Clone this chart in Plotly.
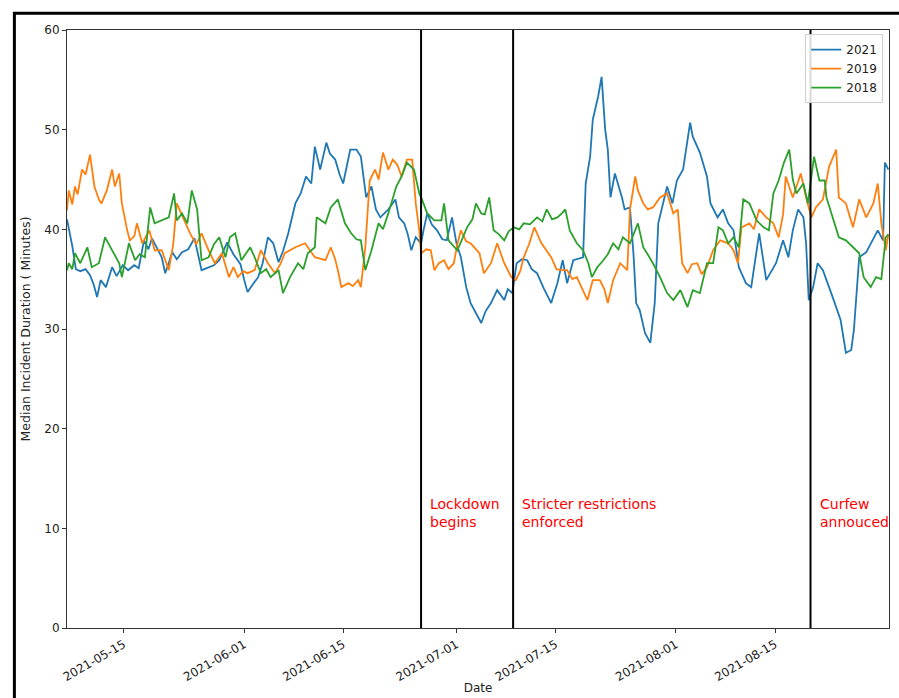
import pandas as pd
import plotly.graph_objects as go

YEAR = "2021-"

# Rolling median incident duration (minutes); times as "MM-DD HH"
t_2021 = ["05-07 00", "05-07 18", "05-08 06", "05-08 21", "05-09 15", "05-10 06", "05-10 18", "05-11 06",
          "05-11 18", "05-12 12", "05-13 09", "05-14 00", "05-14 21", "05-15 15", "05-16 12", "05-17 03",
          "05-17 21", "05-18 12", "05-19 00", "05-19 18", "05-20 09", "05-20 21", "05-21 21", "05-22 12",
          "05-23 06", "05-24 03", "05-25 00", "05-26 00", "05-27 00", "05-27 18", "05-28 12", "05-29 15",
          "05-30 12", "05-31 12", "06-01 00", "06-01 12", "06-02 06", "06-03 00", "06-03 15", "06-04 09",
          "06-05 03", "06-05 21", "06-06 12", "06-07 06", "06-08 06", "06-09 00", "06-09 18", "06-10 12",
          "06-11 00", "06-11 18", "06-12 15", "06-13 03", "06-13 21", "06-14 12", "06-15 00", "06-15 12",
          "06-16 00", "06-16 21", "06-17 12", "06-18 06", "06-19 00", "06-19 15", "06-20 06", "06-21 09",
          "06-22 09", "06-22 21", "06-23 15", "06-24 03", "06-24 15", "06-25 06", "06-26 00", "06-26 09",
          "06-26 21", "06-27 12", "06-28 06", "06-29 00", "06-29 15", "06-30 09", "07-01 00", "07-01 15",
          "07-02 09", "07-03 00", "07-03 18", "07-04 12", "07-05 03", "07-05 21", "07-06 18", "07-07 18",
          "07-08 06", "07-08 21", "07-09 12", "07-10 06", "07-11 00", "07-11 15", "07-12 09", "07-13 09",
          "07-14 09", "07-15 06", "07-16 00", "07-16 15", "07-17 12", "07-18 21", "07-19 06", "07-19 21",
          "07-20 06", "07-21 00", "07-21 12", "07-22 00", "07-22 09", "07-22 18", "07-23 09", "07-24 09",
          "07-24 18", "07-25 12", "07-26 00", "07-26 09", "07-26 21", "07-27 15", "07-28 09", "07-29 00",
          "07-29 12", "07-30 00", "07-30 18", "07-31 12", "08-01 03", "08-02 00", "08-03 00", "08-03 09",
          "08-04 09", "08-05 09", "08-05 21", "08-06 21", "08-07 15", "08-08 09", "08-09 03", "08-09 21",
          "08-10 21", "08-11 15", "08-12 18", "08-13 18", "08-15 03", "08-16 03", "08-16 21", "08-17 12",
          "08-18 06", "08-19 00", "08-19 09", "08-19 18", "08-20 09", "08-21 00", "08-21 18", "08-23 03",
          "08-24 06", "08-25 00", "08-25 18", "08-26 03", "08-26 21", "08-27 21", "08-29 12", "08-30 06",
          "08-30 12", "08-31 00"]
v_2021 = [41.0, 38.3, 36.0, 35.8, 36.0, 35.4, 34.5, 33.2,
          34.9, 34.2, 36.2, 35.3, 36.4, 35.9, 36.4, 36.1,
          38.9, 38.0, 39.1, 38.0, 37.2, 35.6, 37.7, 37.0,
          37.7, 38.0, 39.1, 35.9, 36.2, 36.4, 36.9, 38.7,
          37.5, 36.5, 35.0, 33.7, 34.5, 35.2, 36.6, 39.2,
          38.6, 36.7, 37.8, 39.6, 42.6, 43.6, 45.3, 44.6,
          48.3, 46.0, 48.7, 47.6, 47.0, 45.5, 44.6, 46.5,
          48.0, 48.0, 47.3, 43.2, 44.3, 42.0, 41.2, 42.0,
          43.0, 41.2, 40.6, 39.5, 37.9, 39.2, 38.6, 40.0,
          41.6, 40.5, 39.9, 39.0, 38.9, 41.2, 38.6, 37.2,
          34.2, 32.6, 31.6, 30.6, 31.8, 32.6, 33.9, 32.9,
          34.0, 33.6, 36.6, 37.0, 36.9, 36.0, 35.6, 34.0,
          32.6, 34.6, 36.9, 34.6, 36.9, 37.2, 44.6, 47.3,
          51.0, 53.3, 55.3, 50.0, 48.0, 43.2, 45.6, 43.2,
          42.0, 42.2, 37.5, 32.6, 31.9, 29.6, 28.6, 32.6,
          40.6, 42.0, 44.3, 42.6, 44.9, 46.0, 50.7, 49.3,
          47.7, 45.3, 42.6, 41.2, 42.0, 40.6, 39.9, 36.2,
          34.6, 34.2, 39.6, 34.9, 36.6, 38.9, 37.2, 39.9,
          42.0, 41.2, 38.6, 32.9, 34.2, 36.6, 35.9, 33.2,
          30.9, 27.6, 27.9, 29.9, 37.2, 37.7, 39.9, 38.9,
          46.7, 46.0]

t_2019 = ["05-07 00", "05-07 06", "05-07 18", "05-08 03", "05-08 12", "05-09 03", "05-09 15", "05-10 06",
          "05-10 21", "05-11 12", "05-11 21", "05-12 15", "05-13 09", "05-13 18", "05-14 09", "05-14 18",
          "05-15 12", "05-15 21", "05-16 12", "05-16 21", "05-17 15", "05-18 15", "05-19 09", "05-20 09",
          "05-21 09", "05-22 00", "05-22 12", "05-23 12", "05-24 09", "05-25 06", "05-26 00", "05-27 00",
          "05-27 21", "05-28 21", "05-29 21", "05-30 12", "05-31 03", "05-31 21", "06-01 12", "06-02 12",
          "06-03 09", "06-04 09", "06-05 09", "06-06 03", "06-06 18", "06-08 06", "06-09 15", "06-11 00",
          "06-12 12", "06-13 06", "06-13 21", "06-14 06", "06-14 18", "06-15 18", "06-16 09", "06-17 03",
          "06-17 12", "06-18 03", "06-18 18", "06-19 12", "06-20 00", "06-20 15", "06-21 09", "06-22 00",
          "06-22 15", "06-23 06", "06-24 00", "06-24 18", "06-25 06", "06-25 18", "06-26 00", "06-26 18",
          "06-27 09", "06-27 21", "06-28 12", "06-29 06", "06-29 21", "06-30 15", "07-01 03", "07-01 15",
          "07-02 09", "07-03 00", "07-04 06", "07-04 21", "07-05 21", "07-06 18", "07-07 18", "07-08 18",
          "07-09 09", "07-10 00", "07-10 12", "07-11 06", "07-12 00", "07-13 00", "07-13 15", "07-14 09",
          "07-15 03", "07-15 21", "07-16 15", "07-17 09", "07-18 00", "07-18 18", "07-19 12", "07-20 06",
          "07-21 06", "07-21 21", "07-22 09", "07-23 03", "07-24 03", "07-25 03", "07-25 12", "07-26 06",
          "07-26 15", "07-27 09", "07-28 00", "07-28 18", "07-29 18", "07-30 18", "07-31 15", "08-01 06",
          "08-01 21", "08-02 15", "08-03 06", "08-04 00", "08-04 15", "08-05 09", "08-06 06", "08-07 06",
          "08-08 09", "08-09 03", "08-09 18", "08-10 06", "08-11 09", "08-12 00", "08-12 18", "08-13 18",
          "08-14 18", "08-15 12", "08-16 03", "08-16 12", "08-17 12", "08-18 15", "08-19 09", "08-20 03",
          "08-20 18", "08-21 18", "08-22 15", "08-23 15", "08-24 00", "08-25 00", "08-26 00", "08-26 21",
          "08-27 21", "08-28 21", "08-29 12", "08-30 00", "08-30 15", "08-31 00"]
v_2019 = [41.9, 43.9, 42.5, 44.3, 43.5, 46.0, 45.5, 47.5,
          44.3, 43.0, 42.6, 43.9, 46.0, 44.3, 45.6, 42.6,
          39.9, 38.9, 39.3, 40.6, 38.6, 39.9, 37.9, 37.9,
          35.9, 38.5, 42.6, 40.9, 39.6, 38.5, 39.6, 37.9,
          36.6, 37.6, 35.2, 36.2, 35.2, 35.8, 35.6, 35.9,
          37.9, 36.6, 35.6, 36.5, 37.6, 38.2, 38.6, 37.2,
          36.9, 38.2, 37.0, 35.9, 34.2, 34.6, 34.3, 34.9,
          34.2, 38.2, 44.9, 46.0, 45.0, 47.7, 46.0, 47.0,
          46.5, 45.3, 47.0, 47.0, 42.6, 39.9, 37.6, 38.0,
          37.9, 35.9, 36.6, 36.9, 36.0, 36.6, 38.5, 39.9,
          38.8, 38.6, 37.6, 35.6, 36.6, 38.6, 36.6, 35.2,
          34.9, 35.8, 37.2, 38.5, 40.2, 38.6, 38.0, 37.2,
          36.0, 35.9, 35.9, 35.0, 35.2, 34.0, 32.9, 34.9,
          34.9, 34.0, 32.6, 34.9, 36.6, 35.9, 42.0, 45.3,
          43.9, 42.6, 42.0, 42.2, 43.2, 43.6, 41.6, 42.0,
          36.6, 35.6, 36.5, 36.6, 35.5, 36.2, 37.9, 38.9,
          38.6, 37.9, 36.6, 40.2, 40.6, 40.0, 42.0, 41.2,
          40.6, 39.2, 41.5, 45.3, 43.2, 45.6, 43.2, 41.2,
          42.2, 43.0, 46.3, 48.0, 43.2, 42.6, 40.2, 43.0,
          41.2, 42.6, 44.6, 40.6, 37.9, 39.5]

t_2018 = ["05-07 00", "05-07 06", "05-07 18", "05-08 03", "05-08 21", "05-09 21", "05-10 12", "05-11 12",
          "05-12 09", "05-13 03", "05-13 18", "05-14 09", "05-14 18", "05-15 18", "05-16 15", "05-17 06",
          "05-18 00", "05-18 18", "05-19 09", "05-20 09", "05-21 09", "05-22 03", "05-22 12", "05-23 06",
          "05-24 00", "05-24 15", "05-25 09", "05-26 00", "05-27 00", "05-27 18", "05-28 12", "05-29 09",
          "05-30 00", "05-30 18", "05-31 15", "06-01 21", "06-02 12", "06-03 09", "06-04 03", "06-04 18",
          "06-05 21", "06-06 12", "06-07 12", "06-08 15", "06-09 09", "06-10 00", "06-11 00", "06-11 06",
          "06-12 12", "06-13 06", "06-14 06", "06-15 06", "06-16 03", "06-16 21", "06-17 12", "06-18 03",
          "06-19 00", "06-20 00", "06-20 15", "06-21 09", "06-22 12", "06-23 06", "06-24 00", "06-25 00",
          "06-25 18", "06-26 03", "06-26 21", "06-27 21", "06-28 21", "06-29 06", "06-29 21", "07-01 03",
          "07-01 18", "07-02 12", "07-03 06", "07-03 18", "07-04 12", "07-05 00", "07-05 15", "07-06 06",
          "07-07 00", "07-07 18", "07-08 09", "07-09 03", "07-09 21", "07-10 12", "07-11 09", "07-12 09",
          "07-13 03", "07-13 18", "07-14 12", "07-15 06", "07-15 21", "07-16 09", "07-17 00", "07-18 00",
          "07-18 21", "07-19 15", "07-20 03", "07-20 21", "07-21 18", "07-22 09", "07-23 03", "07-23 21",
          "07-24 12", "07-25 12", "07-26 15", "07-27 09", "07-28 00", "07-28 18", "07-29 18", "07-30 18",
          "07-31 15", "08-01 15", "08-02 15", "08-03 09", "08-04 09", "08-05 09", "08-06 06", "08-07 00",
          "08-07 15", "08-08 09", "08-09 03", "08-09 21", "08-10 12", "08-11 09", "08-12 09", "08-13 09",
          "08-14 03", "08-14 18", "08-15 12", "08-16 06", "08-17 00", "08-17 12", "08-18 00", "08-19 00",
          "08-19 15", "08-20 12", "08-21 06", "08-22 00", "08-22 06", "08-23 06", "08-24 00", "08-25 00",
          "08-26 00", "08-26 21", "08-27 12", "08-28 12", "08-29 06", "08-30 00", "08-30 15", "08-31 00"]
v_2018 = [35.9, 36.6, 36.0, 37.6, 36.6, 38.2, 36.2, 36.6,
          39.2, 38.2, 37.5, 36.6, 35.2, 38.6, 36.9, 37.5,
          37.2, 42.2, 40.6, 40.9, 41.2, 43.6, 40.9, 41.6,
          40.6, 43.9, 42.0, 36.9, 37.2, 38.5, 39.2, 37.2,
          39.2, 39.6, 36.9, 38.2, 37.2, 35.6, 36.0, 35.2,
          35.9, 33.6, 35.2, 36.6, 36.0, 37.6, 38.2, 41.2,
          40.6, 42.2, 43.0, 40.6, 39.6, 39.0, 38.9, 35.9,
          37.9, 40.6, 40.0, 41.6, 44.3, 45.3, 46.7, 46.0,
          43.6, 43.0, 41.6, 40.9, 40.9, 42.6, 38.9, 37.9,
          39.0, 40.2, 41.0, 42.6, 41.6, 41.5, 43.2, 39.9,
          39.5, 38.9, 39.8, 40.2, 40.0, 40.6, 40.5, 41.2,
          40.8, 42.0, 41.0, 41.2, 41.6, 42.0, 39.9, 38.6,
          37.9, 36.6, 35.2, 36.2, 36.9, 37.5, 38.6, 38.0,
          39.2, 38.6, 40.6, 38.2, 37.5, 36.6, 35.2, 33.6,
          32.9, 33.9, 32.2, 33.9, 33.6, 36.6, 36.6, 40.2,
          39.9, 38.6, 39.2, 38.2, 43.0, 42.6, 40.9, 40.2,
          39.9, 43.6, 44.9, 46.7, 48.0, 45.0, 43.6, 44.6,
          42.6, 47.3, 44.9, 44.9, 43.2, 40.9, 39.2, 38.9,
          38.2, 37.6, 35.2, 34.2, 35.2, 35.0, 39.2, 39.5]

# Key policy dates and their labels
event_dates = ["2021-06-26", "2021-07-09", "2021-08-20"]
event_labels = ["Lockdown<br>begins", "Stricter restrictions<br>enforced", "Curfew<br>annouced"]
event_label_y = 10

tick_dates = ["2021-05-15", "2021-06-01", "2021-06-15", "2021-07-01",
              "2021-07-15", "2021-08-01", "2021-08-15"]
y_ticks = [0, 10, 20, 30, 40, 50, 60]

series = [("2021", t_2021, v_2021, "#1f77b4"),
          ("2019", t_2019, v_2019, "#ff7f0e"),
          ("2018", t_2018, v_2018, "#2ca02c")]


def to_time(stamps):
    return pd.to_datetime([YEAR + s for s in stamps], format="%Y-%m-%d %H")


fig = go.Figure()
for name, ts, vs, color in series:
    fig.add_trace(go.Scatter(x=to_time(ts), y=vs, mode="lines", name=name,
                             line=dict(color=color, width=1.8)))

for d, label in zip(event_dates, event_labels):
    fig.add_shape(type="line", xref="x", yref="paper", x0=d, x1=d, y0=0, y1=1,
                  line=dict(color="black", width=2), layer="above")
    fig.add_annotation(x=pd.Timestamp(d) + pd.Timedelta(days=1), y=event_label_y,
                       text=label, showarrow=False, xanchor="left", yanchor="bottom",
                       yshift=-4, align="left",
                       font=dict(color="red", size=14, family="DejaVu Sans"))

# Outer figure frame
fig.add_shape(type="rect", xref="paper", yref="paper",
              x0=-0.064, x1=1.03, y0=-0.15, y1=1.028,
              line=dict(color="black", width=3), fillcolor="rgba(0,0,0,0)", layer="above")

axis_common = dict(showgrid=False, zeroline=False, showline=True, mirror=True,
                   linecolor="#333333", linewidth=1, ticks="outside", ticklen=4,
                   tickcolor="#333333", tickfont=dict(size=12, color="#222222"),
                   automargin=False)

fig.update_xaxes(range=["2021-05-07 00:00", "2021-08-31 02:00"], tickvals=tick_dates,
                 tickformat="%Y-%m-%d", tickangle=-30,
                 title=dict(text="Date", font=dict(size=12, color="#222222"), standoff=0),
                 **axis_common)
fig.update_yaxes(range=[0, 60], tickvals=y_ticks,
                 title=dict(text="Median Incident Duration ( Minutes)",
                            font=dict(size=12.5, color="#222222"), standoff=10),
                 **axis_common)

fig.update_layout(
    width=899, height=698,
    margin=dict(l=67, r=10, t=30, b=70, autoexpand=False),
    paper_bgcolor="white", plot_bgcolor="white",
    font=dict(family="DejaVu Sans", color="#222222"),
    legend=dict(x=0.993, y=0.993, xanchor="right", yanchor="top",
                bgcolor="rgba(255,255,255,0.85)", bordercolor="#d0d0d0", borderwidth=1,
                font=dict(size=12), tracegroupgap=0, itemwidth=30),
    showlegend=True,
)

fig.write_html("out.html")
